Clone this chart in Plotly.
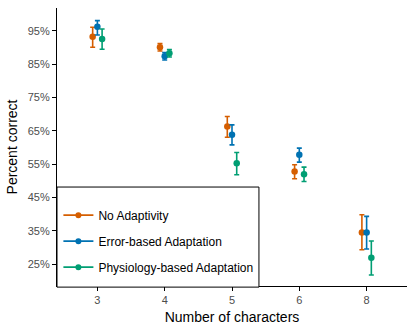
import plotly.graph_objects as go

categories = ["3", "4", "5", "6", "8"]
series_names = ["No Adaptivity", "Error-based Adaptation", "Physiology-based Adaptation"]
colors = ["#D55E00", "#0072B2", "#009E73"]

no_adapt_mean = [93.3, 90.1, 66.3, 52.8, 34.5]
no_adapt_low = [90.1, 89.0, 63.1, 50.6, 29.3]
no_adapt_high = [96.1, 91.2, 69.3, 54.8, 39.8]

error_mean = [96.3, 87.4, 63.8, 57.8, 34.5]
error_low = [93.8, 86.3, 60.8, 55.6, 29.5]
error_high = [98.1, 88.5, 66.8, 59.8, 39.3]

phys_mean = [92.6, 88.3, 55.3, 52.0, 26.9]
phys_low = [89.5, 87.2, 51.8, 49.8, 21.7]
phys_high = [95.6, 89.4, 58.5, 54.1, 31.9]

y_ticks = [25, 35, 45, 55, 65, 75, 85, 95]

means = [no_adapt_mean, error_mean, phys_mean]
lows = [no_adapt_low, error_low, phys_low]
highs = [no_adapt_high, error_high, phys_high]
dodge = [-0.07, 0.0, 0.07]

FONT = "Liberation Sans, Arial, Helvetica, sans-serif"

fig = go.Figure()
for i, name in enumerate(series_names):
    xs = [k + 1 + dodge[i] for k in range(len(categories))]
    m = means[i]
    fig.add_trace(go.Scatter(
        x=xs, y=m, mode="markers", name=name, showlegend=False,
        marker=dict(color=colors[i], size=6.5, symbol="circle"),
        error_y=dict(type="data", symmetric=False,
                     array=[h - v for h, v in zip(highs[i], m)],
                     arrayminus=[v - l for v, l in zip(m, lows[i])],
                     color=colors[i], thickness=1.6, width=2.5),
        hoverinfo="skip",
    ))
for i, name in enumerate(series_names):
    fig.add_trace(go.Scatter(
        x=[None], y=[None], mode="lines+markers", name=name,
        line=dict(color=colors[i], width=1.6),
        marker=dict(color=colors[i], size=6, symbol="circle"),
        legendgroup=name,
    ))

fig.add_shape(type="rect", xref="paper", yref="paper",
              x0=0.0, x1=0.577, y0=-0.004, y1=0.356,
              line=dict(color="black", width=1), fillcolor="white", layer="above")

fig.update_layout(
    width=415, height=332,
    margin=dict(l=57, r=8, t=8, b=46),
    plot_bgcolor="white", paper_bgcolor="white",
    font=dict(family=FONT, color="black"),
    legend=dict(x=0.004, y=0.307, xanchor="left", yanchor="top",
                bgcolor="rgba(0,0,0,0)", borderwidth=0,
                font=dict(size=12, family=FONT, color="black"),
                tracegroupgap=7, itemwidth=30),
    xaxis=dict(range=[0.4, 5.6], tickmode="array",
               tickvals=list(range(1, len(categories) + 1)), ticktext=categories,
               showgrid=False, zeroline=False, showline=True, linecolor="black", linewidth=1.2,
               ticks="outside", ticklen=4, tickcolor="black",
               tickfont=dict(size=11, color="#4D4D4D", family=FONT),
               title=dict(text="Number of characters", font=dict(size=14, family=FONT), standoff=6)),
    yaxis=dict(range=[18.4, 101.9], tickmode="array", tickvals=y_ticks,
               ticktext=[f"{t}%" for t in y_ticks],
               showgrid=False, zeroline=False, showline=True, linecolor="black", linewidth=1.2,
               ticks="outside", ticklen=4, tickcolor="black",
               tickfont=dict(size=11, color="#4D4D4D", family=FONT),
               title=dict(text="Percent correct", font=dict(size=14, family=FONT), standoff=6)),
)

fig.write_html("out.html", config={"displayModeBar": False},
               post_script="document.body.style.margin='0';")
